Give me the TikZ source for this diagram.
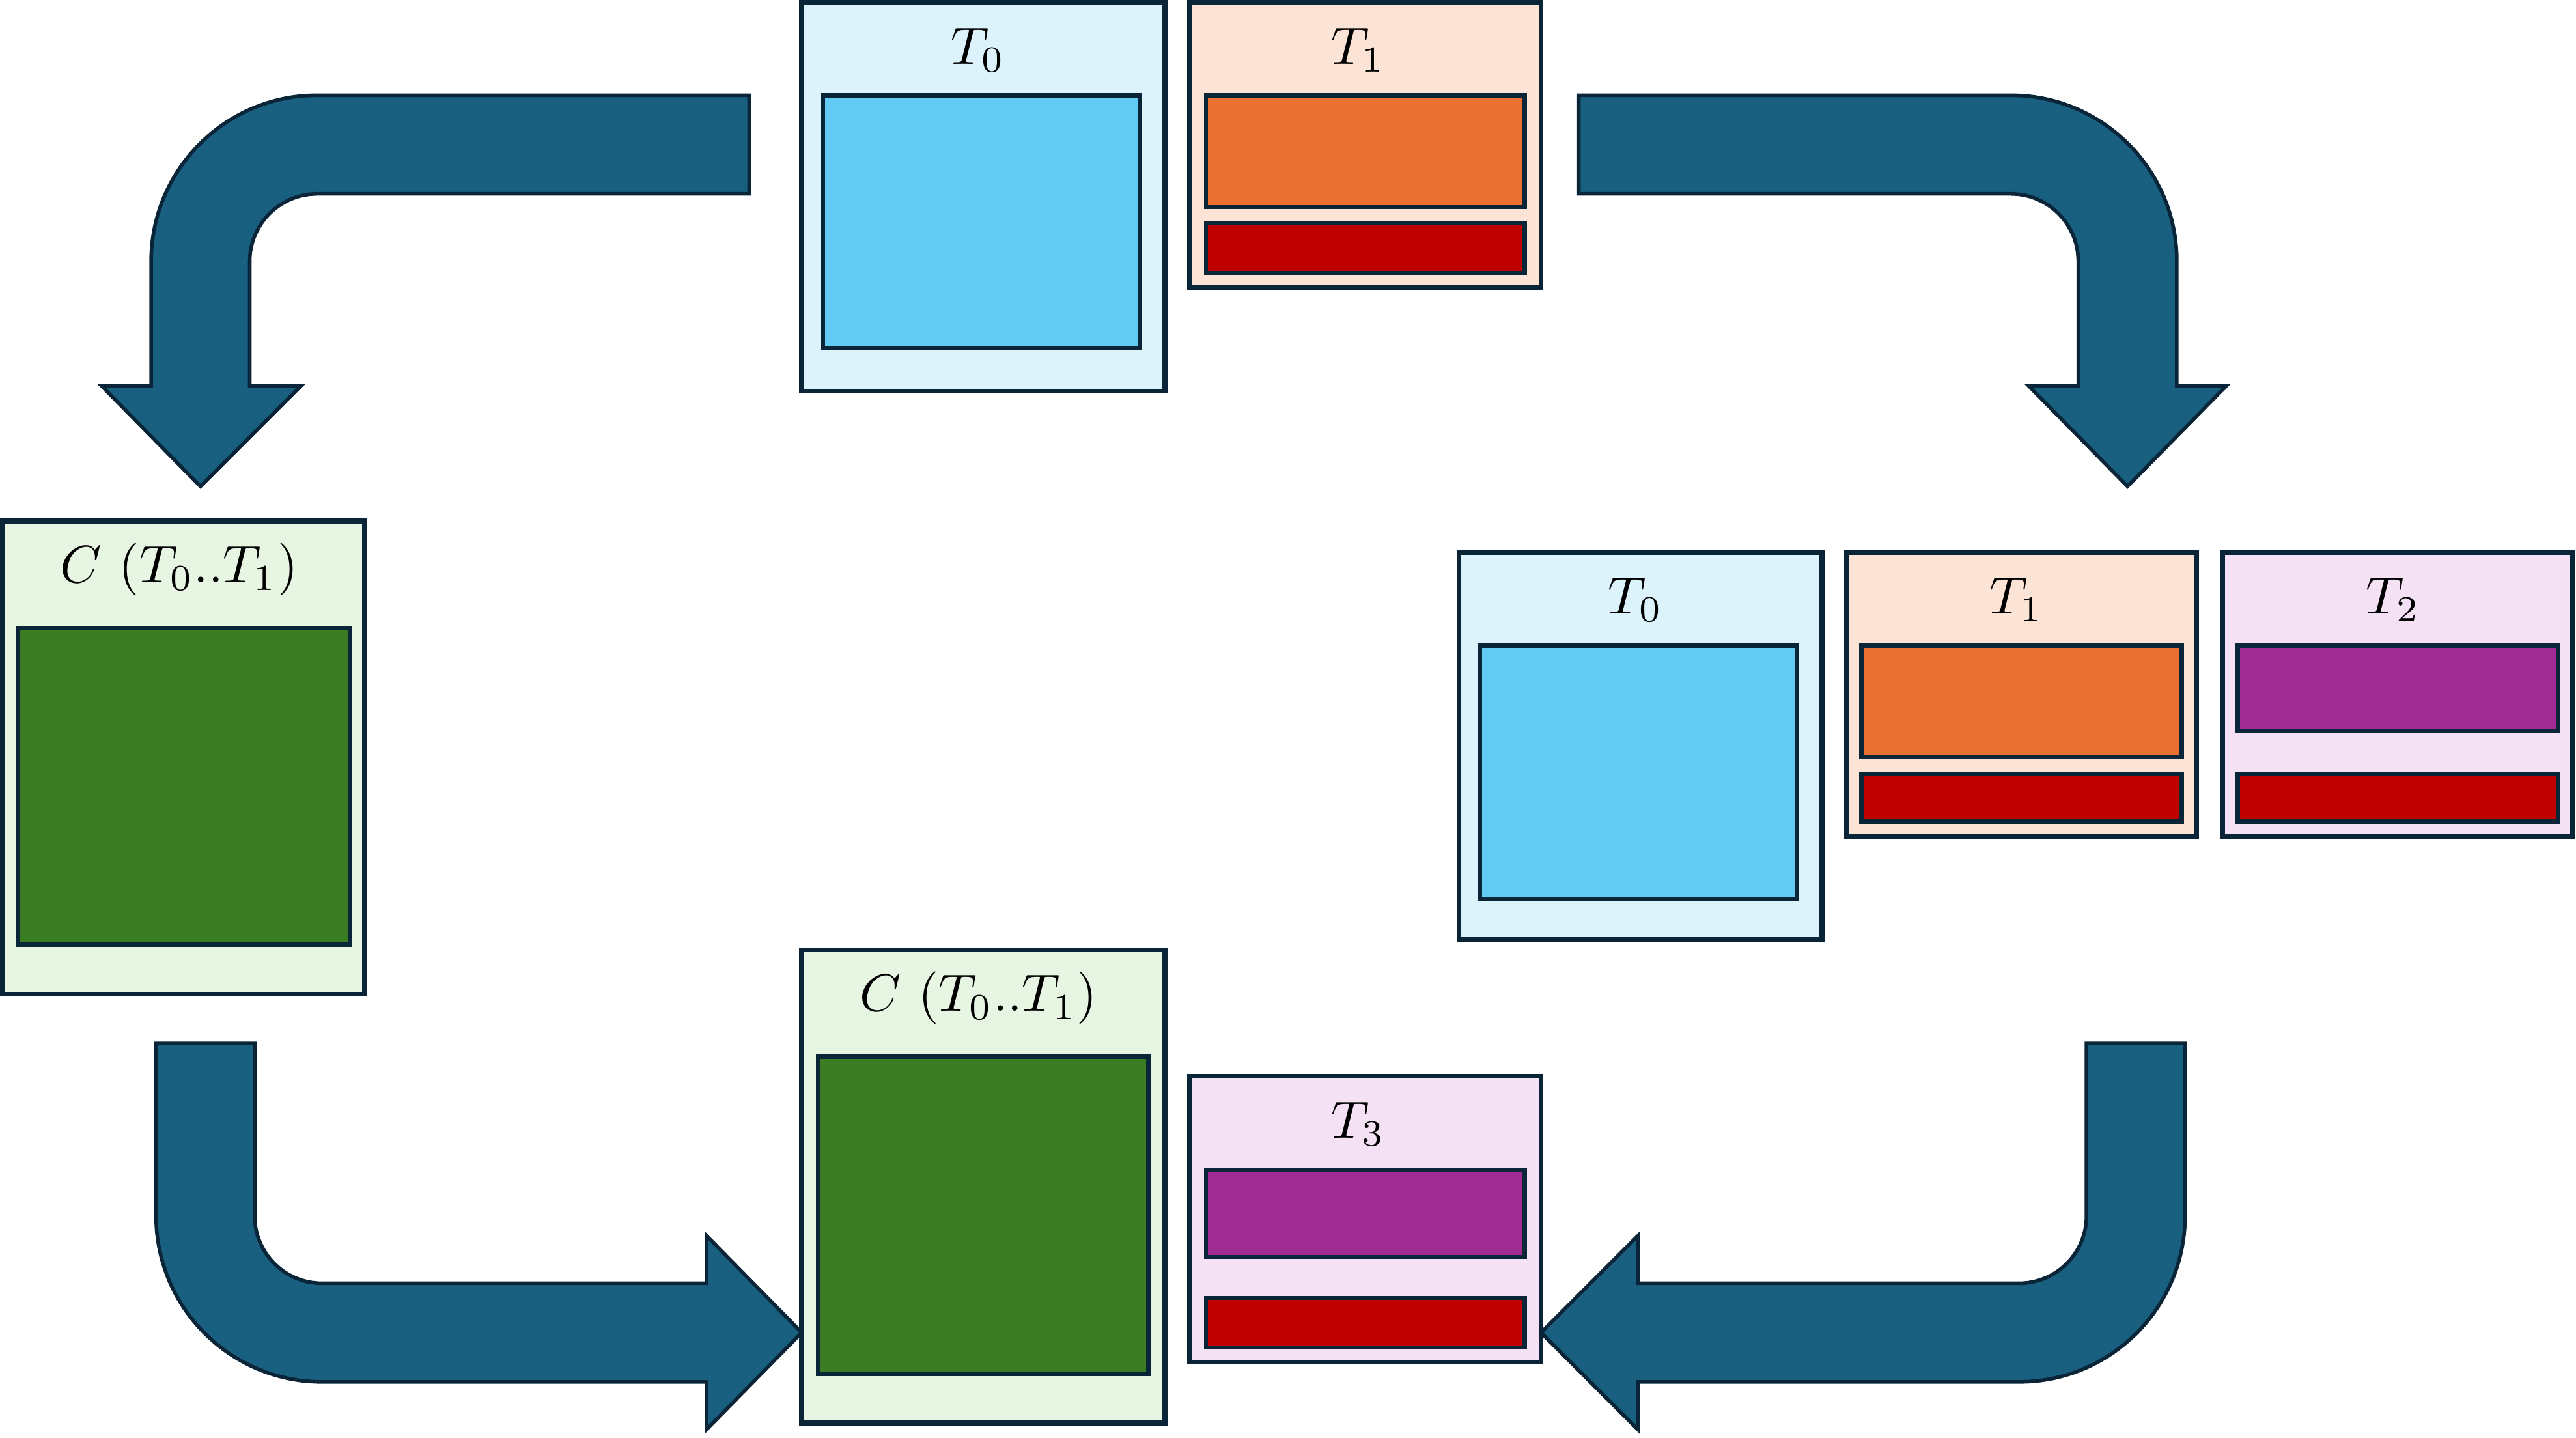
\documentclass[tikz,border=0pt]{standalone}
\definecolor{edge}{HTML}{0A2537}
\definecolor{arrowc}{HTML}{185F80}
\definecolor{lblue}{HTML}{DDF3FB}
\definecolor{cblue}{HTML}{61CBF3}
\definecolor{lorange}{HTML}{FBE3D6}
\definecolor{corange}{HTML}{E97132}
\definecolor{cred}{HTML}{C00000}
\definecolor{lpurple}{HTML}{F5E1F4}
\definecolor{cpurple}{HTML}{A02B93}
\definecolor{lgreen}{HTML}{E7F5E3}
\definecolor{cgreen}{HTML}{3B7D23}
\tikzset{
  outerbox/.style={draw=edge, line width=3pt, inner sep=0pt, outer sep=0pt, rectangle},
  innerbox/.style={draw=edge, line width=2.6pt, inner sep=0pt, outer sep=0pt, rectangle},
  lab/.style={anchor=base, inner sep=0pt, scale=3.2},
  bigarrow/.style={draw=edge, fill=arrowc, line width=2.2pt, line join=miter},
}
\begin{document}
\begin{tikzpicture}[x=1pt,y=1pt]
\useasboundingbox (0,0) rectangle (1568,-875);

% ---------- top group ----------
\node[outerbox, fill=lblue, minimum width=221pt, minimum height=236.5pt] (t0a) at (598.5,-119.75) {};
\node[innerbox, fill=cblue, minimum width=193pt, minimum height=154pt] (t0ain) at (597.5,-135) {};
\node[lab] (t0alab) at (595.5,-39) {$T_0$};
\node[outerbox, fill=lorange, minimum width=214pt, minimum height=173.5pt] (t1a) at (831,-88.25) {};
\node[innerbox, fill=corange, minimum width=194pt, minimum height=68pt] (t1ain) at (831,-92) {};
\node[innerbox, fill=cred, minimum width=194pt, minimum height=30pt] (t1ared) at (831,-151) {};
\node[lab] (t1alab) at (827,-39) {$T_1$};

% ---------- right group ----------
\node[outerbox, fill=lblue, minimum width=221pt, minimum height=236pt] (t0b) at (998.5,-454) {};
\node[innerbox, fill=cblue, minimum width=193pt, minimum height=154pt] (t0bin) at (997.5,-470) {};
\node[lab] (t0blab) at (995.5,-373.5) {$T_0$};
\node[outerbox, fill=lorange, minimum width=213pt, minimum height=173pt] (t1b) at (1230.5,-422.5) {};
\node[innerbox, fill=corange, minimum width=195pt, minimum height=68pt] (t1bin) at (1230.5,-427) {};
\node[innerbox, fill=cred, minimum width=195pt, minimum height=29pt] (t1bred) at (1230.5,-485.5) {};
\node[lab] (t1blab) at (1227.5,-373.5) {$T_1$};
\node[outerbox, fill=lpurple, minimum width=213pt, minimum height=173pt] (t2b) at (1459.5,-422.5) {};
\node[innerbox, fill=cpurple, minimum width=195pt, minimum height=52pt] (t2bin) at (1459.5,-419) {};
\node[innerbox, fill=cred, minimum width=195pt, minimum height=29pt] (t2bred) at (1459.5,-485.5) {};
\node[lab] (t2blab) at (1456.5,-373.5) {$T_2$};

% ---------- left group ----------
\node[outerbox, fill=lgreen, minimum width=220.5pt, minimum height=288pt] (cl) at (111.75,-461) {};
\node[innerbox, fill=cgreen, minimum width=202pt, minimum height=193pt] (clin) at (112,-478.5) {};
\node[lab] (cllab) at (109,-354.5) {$C\ (T_0..T_1)$};

% ---------- bottom group ----------
\node[outerbox, fill=lgreen, minimum width=221pt, minimum height=288pt] (cb) at (598.5,-722) {};
\node[innerbox, fill=cgreen, minimum width=201pt, minimum height=193pt] (cbin) at (598.5,-739.5) {};
\node[lab] (cblab) at (595.5,-615.5) {$C\ (T_0..T_1)$};
\node[outerbox, fill=lpurple, minimum width=214pt, minimum height=174pt] (t3) at (831,-742) {};
\node[innerbox, fill=cpurple, minimum width=194pt, minimum height=53pt] (t3in) at (831,-738.5) {};
\node[innerbox, fill=cred, minimum width=194pt, minimum height=30pt] (t3red) at (831,-805) {};
\node[lab] (t3lab) at (827,-692.5) {$T_3$};

% ---------- block arrows ----------
% top left
\draw[bigarrow] (456,-58) -- (193,-58) arc[start angle=90, end angle=180, radius=101]
  -- (92,-235) -- (62,-235) -- (122,-296) -- (183,-235) -- (152,-235) -- (152,-159)
  arc[start angle=180, end angle=90, radius=41] -- (456,-118) -- cycle;
% top right
\draw[bigarrow] (961,-58) -- (1224,-58) arc[start angle=90, end angle=0, radius=101]
  -- (1325,-235) -- (1355,-235) -- (1295,-296) -- (1235,-235) -- (1265,-235) -- (1265,-159)
  arc[start angle=0, end angle=90, radius=41] -- (961,-118) -- cycle;
% bottom left
\draw[bigarrow] (95,-635) -- (95,-740) arc[start angle=180, end angle=270, radius=101]
  -- (430,-841) -- (430,-870) -- (488,-811) -- (430,-752) -- (430,-781) -- (196,-781)
  arc[start angle=270, end angle=180, radius=41] -- (155,-635) -- cycle;
% bottom right
\draw[bigarrow] (1330,-635) -- (1330,-740) arc[start angle=0, end angle=-90, radius=101]
  -- (997,-841) -- (997,-870) -- (938,-811) -- (997,-752) -- (997,-781) -- (1229,-781)
  arc[start angle=-90, end angle=0, radius=41] -- (1270,-635) -- cycle;
\end{tikzpicture}
\end{document}
